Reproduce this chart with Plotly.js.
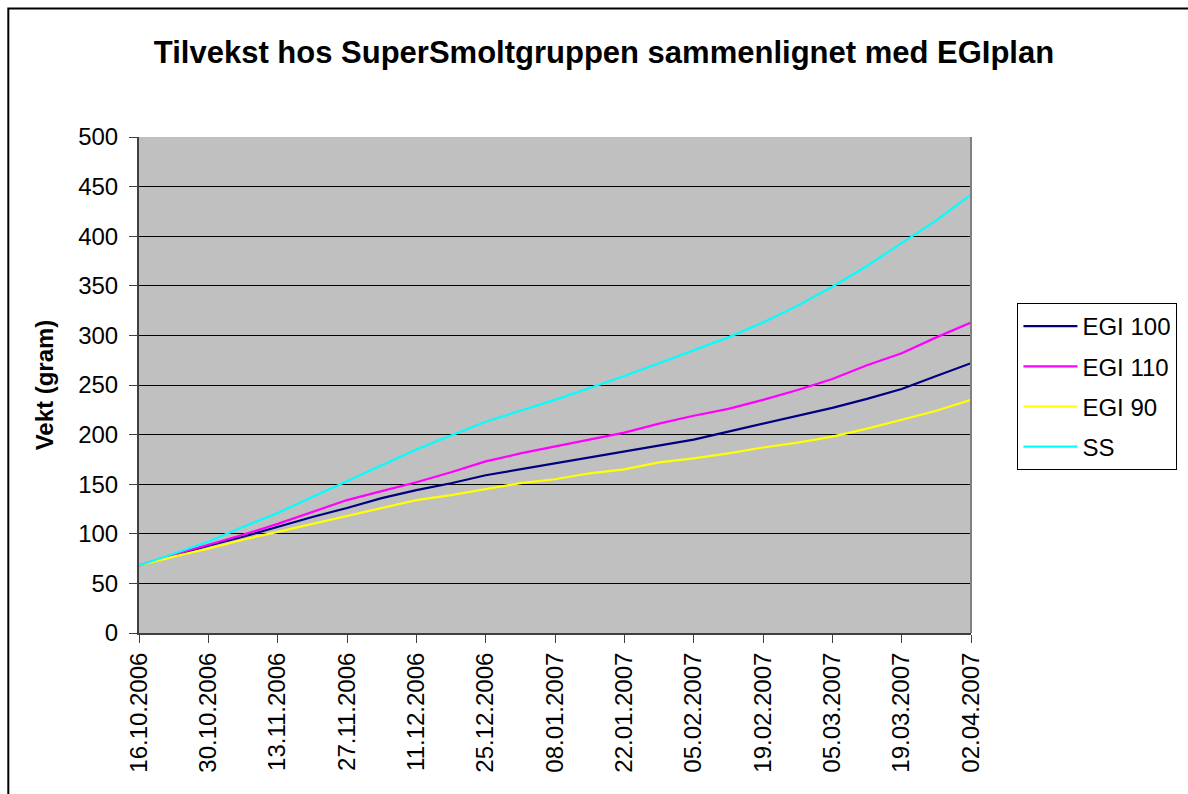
<!DOCTYPE html>
<html><head><meta charset="utf-8">
<script src="https://cdn.plot.ly/plotly-3.0.1.min.js"></script>
<style>html,body{margin:0;padding:0;background:#fff}#chart{width:1188px;height:794px}</style>
</head><body><div id="chart"></div>
<script>
const dates = ['2006-10-16','2006-10-23','2006-10-30','2006-11-06','2006-11-13','2006-11-20','2006-11-27',
  '2006-12-04','2006-12-11','2006-12-18','2006-12-25','2007-01-01','2007-01-08','2007-01-15','2007-01-22',
  '2007-01-29','2007-02-05','2007-02-12','2007-02-19','2007-02-26','2007-03-05','2007-03-12','2007-03-19',
  '2007-03-26','2007-04-02'];
const egi100 = [68,78,88,97,107,117,126,136,144,151,159,165,171,177,183,189,195,203,211,219,227,236,246,259,272];
const egi110 = [68,79,89,99,110,122,134,143,152,162,173,181,188,195,202,211,219,226,235,245,256,270,282,298,313];
const egi90  = [68,77,85,94,102,110,118,126,134,139,145,151,155,161,165,172,176,181,187,192,198,206,215,224,235];
const ss     = [68,80,92,107,121,137,153,169,185,199,213,224,235,247,259,272,285,298,313,330,349,370,393,416,442];
const seriesNames = ['EGI 100','EGI 110','EGI 90','SS'];
const seriesColors = ['#000080','#FF00FF','#FFFF00','#00FFFF'];
const tickDates = ['2006-10-16','2006-10-30','2006-11-13','2006-11-27','2006-12-11','2006-12-25','2007-01-08',
  '2007-01-22','2007-02-05','2007-02-19','2007-03-05','2007-03-19','2007-04-02'];
const tickLabels = ['16.10.2006','30.10.2006','13.11.2006','27.11.2006','11.12.2006','25.12.2006','08.01.2007',
  '22.01.2007','05.02.2007','19.02.2007','05.03.2007','19.03.2007','02.04.2007'];
const titleText = 'Tilvekst hos SuperSmoltgruppen sammenlignet med EGIplan';
const yTitle = 'Vekt (gram)';

const F = 'Liberation Sans, Arial, sans-serif';
const values = [egi100, egi110, egi90, ss];
const traces = values.map((v, i) => ({
  x: dates, y: v, type: 'scatter', mode: 'lines', name: seriesNames[i],
  legendgroup: 'g' + i,
  line: {color: seriesColors[i], width: 2.2}
}));

const layout = {
  width: 1188, height: 794,
  margin: {l: 138.5, r: 215.5, t: 137, b: 161, pad: 0},
  paper_bgcolor: '#ffffff', plot_bgcolor: '#c0c0c0',
  font: {family: F, size: 24, color: '#000'},
  showlegend: true,
  title: {text: '<b>' + titleText + '</b>', font: {family: F, size: 31, color: '#000'},
    x: 604 / 1188, xref: 'container', xanchor: 'center', y: 1 - 52 / 794, yref: 'container', yanchor: 'middle'},
  xaxis: {
    type: 'date', range: ['2006-10-16', '2007-04-02'],
    tickmode: 'array', tickvals: tickDates, ticktext: tickLabels, tickangle: -90,
    ticks: 'outside', ticklen: 8, tickwidth: 1, tickcolor: '#404040',
    showline: true, linecolor: '#404040', linewidth: 2,
    showgrid: false, zeroline: false, tickfont: {family: F, size: 24, color: '#000'}
  },
  yaxis: {
    range: [0, 500], dtick: 50, tick0: 0,
    ticks: 'outside', ticklen: 8, tickwidth: 1, tickcolor: '#404040',
    showline: true, linecolor: '#404040', linewidth: 2,
    showgrid: true, gridcolor: '#000000', gridwidth: 1, zeroline: false,
    tickfont: {family: F, size: 24, color: '#000'}, ticklabelstandoff: 6,
    title: {text: '<b>' + yTitle + '</b>', font: {family: F, size: 24, color: '#000'}, standoff: 18}
  },
  legend: {
    x: (1018 - 138.5) / 834, xanchor: 'left', y: (633 - 303) / 496, yanchor: 'top',
    bordercolor: '#000', borderwidth: 1, bgcolor: '#fff',
    font: {family: F, size: 24, color: '#000'},
    traceorder: 'grouped', tracegroupgap: 6, itemwidth: 54
  },
  shapes: [
    {type: 'line', xref: 'paper', yref: 'paper', x0: 1, x1: 1, y0: 0, y1: 1, line: {color: '#808080', width: 2}},
    {type: 'rect', xref: 'paper', yref: 'paper', x0: (7.5 - 138.5) / 834, x1: (1200 - 138.5) / 834,
      y0: (633 - 810) / 496, y1: (633 - 8.5) / 496, line: {color: '#000', width: 2}}
  ]
};
Plotly.newPlot('chart', traces, layout, {displayModeBar: false, staticPlot: true});
</script></body></html>
